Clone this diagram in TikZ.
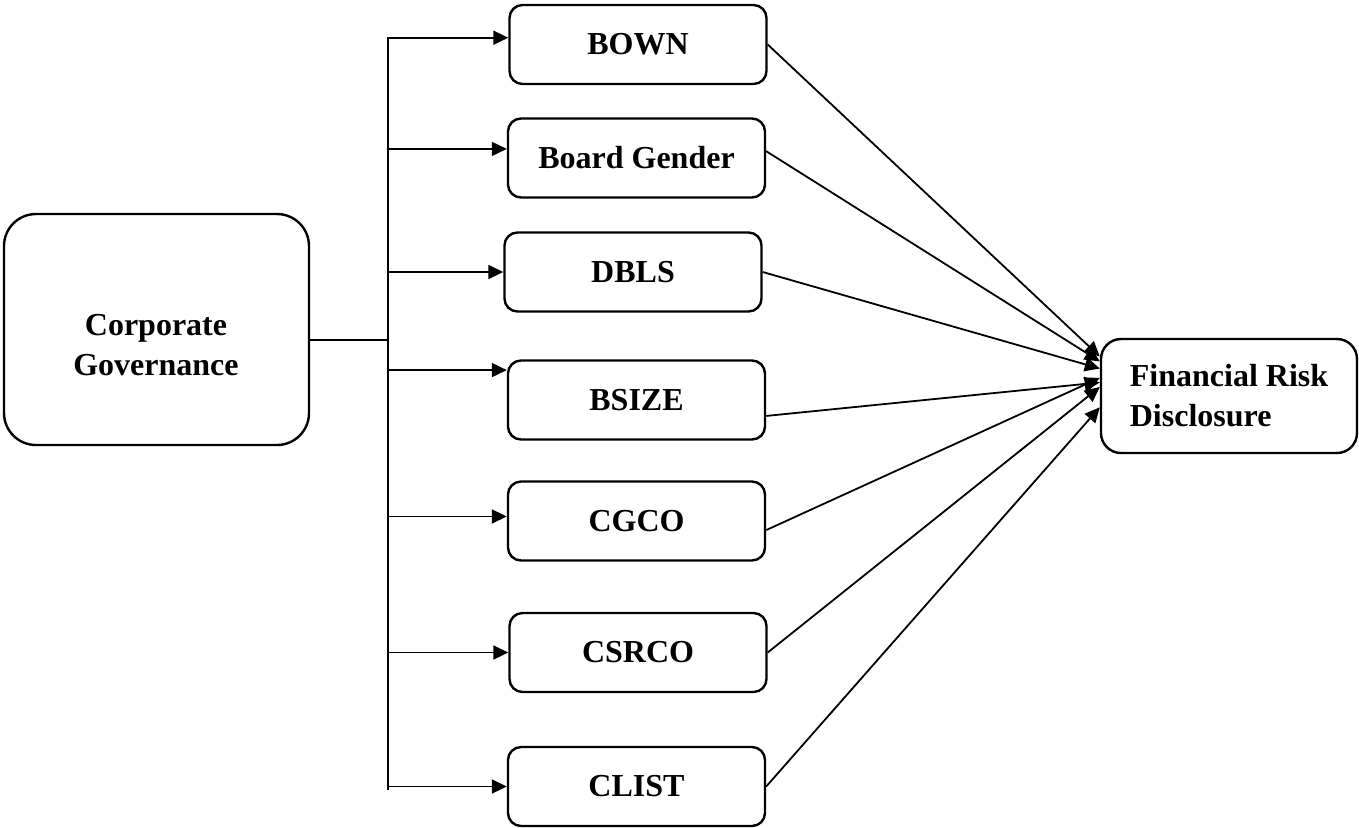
\documentclass[tikz,border=0pt]{standalone}
\usepackage{fontspec}
\setmainfont{Liberation Serif}
\usetikzlibrary{arrows.meta}
\begin{document}
\begin{tikzpicture}[x=0.5pt,y=-0.5pt,line join=round,>={Triangle[length=7.5pt,width=7pt]},
		font=\fontsize{16}{20}\selectfont\bfseries,
		varbox/.style={draw,line width=1.2pt,rounded corners=6.5pt,minimum width=128.5pt,minimum height=39.5pt,inner sep=0pt},
		link/.style={line width=0.9pt}]
		\useasboundingbox (0,0) rectangle (1359,827);
		%%%%%%%%%%%%%%%
		\node[draw,line width=1.2pt,rounded corners=16pt,minimum width=152.5pt,minimum height=115.5pt] (cg) at (156.5,329.5) {};
		\node[align=center,inner sep=0pt] (cgtext) at (156,345) {Corporate\\Governance};
		%%%%%%%%%%%%%%%
		\node[varbox] (bown) at (638,44.5) {BOWN};
		\node[varbox] (gender) at (636.5,158) {Board Gender};
		\node[varbox] (dbls) at (633,272) {DBLS};
		\node[varbox] (bsize) at (636.5,400) {BSIZE};
		\node[varbox] (cgco) at (636.5,521) {CGCO};
		\node[varbox] (csrco) at (638,652.5) {CSRCO};
		\node[varbox] (clist) at (636.5,786.5) {CLIST};
		%%%%%%%%%%%%%%%
		\node[draw,line width=1.2pt,rounded corners=10pt,minimum height=57pt,minimum width=128pt,align=left] (frd) at (1229,396) {Financial Risk\\Disclosure};
		%%%%%%%%%%%%%%%
		\coordinate (top) at (388,37);
		\coordinate (bot) at (388,790);
		\draw[link] (top) -- (bot);
		\draw[link] (cg.-4) -- (cg.-4 -| top);
		\draw[link,->] (bown.177 -| top) -- (bown.177);
		\draw[link,->] (gender.176 -| top) -- (gender.176);
		\draw[link,->] (dbls.west -| top) -- (dbls.west);
		\draw[link,->] (bsize.167 -| top) -- (bsize.167);
		\draw[link,->] (cgco.178 -| top) -- (cgco.178);
		\draw[link,->] (csrco.west -| top) -- (csrco.west);
		\draw[link,->] (clist.west -| top) -- (clist.west);
		%%%%%%%%%%%%%%%
		\draw[link,->] (bown.east) -- (frd.163);
		\draw[link,->] (gender.3) -- (frd.165);
		\draw[link,->] (dbls.east) -- (frd.168);
		\draw[link,->] (bsize.-7) -- (frd.174);
		\draw[link,->] (cgco.-4) -- (frd.172);
		\draw[link,->] (csrco.east) -- (frd.176);
		\draw[link,->] (clist.east) -- (frd.185);
\end{tikzpicture}
\end{document}
